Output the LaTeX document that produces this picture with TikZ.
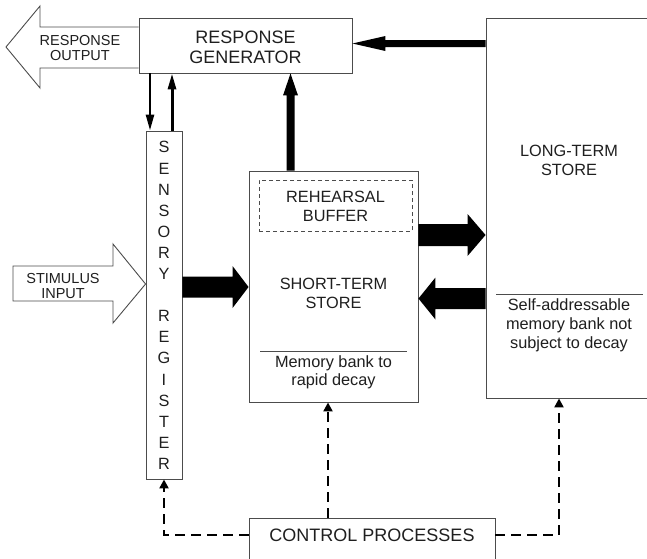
\documentclass[tikz,border=0pt]{standalone}
\usepackage{fontspec}
\setmainfont{Liberation Sans}
\usetikzlibrary{arrows.meta,calc}

% Solid block arrow from #1 to #2: shaft half-width #3, head half-width #4, head length #5
\newcommand\blockarrow[5]{%
  \coordinate (ba-s) at (#1);
  \coordinate (ba-t) at (#2);
  \coordinate (ba-b) at ($(ba-t)!#5!(ba-s)$);
  \fill[black] ($(ba-s)!#3!90:(ba-t)$) -- ($(ba-b)!#3!-90:(ba-s)$)
    -- ($(ba-b)!#4!-90:(ba-s)$) -- (ba-t) -- ($(ba-b)!#4!90:(ba-s)$)
    -- ($(ba-b)!#3!90:(ba-s)$) -- ($(ba-s)!#3!-90:(ba-t)$) -- cycle;
}

\begin{document}
\begin{tikzpicture}[x=1pt,y=-1pt,
  box/.style={draw=black!70, line width=0.9pt, fill=white, inner sep=0pt},
  lbl/.style={text=black!88, align=center, inner sep=0pt,
    font=\fontsize{16.3}{19}\selectfont},
  small/.style={lbl, font=\fontsize{14.5}{15}\selectfont},
  big/.style={lbl, font=\fontsize{18}{20}\selectfont},
  hollow/.style={draw=black!70, line width=0.9pt, fill=white, line join=miter},
  link/.style={line width=2.6pt, -{Triangle[length=16pt,width=8pt]}},
  ctl/.style={line width=2.5pt, dash pattern=on 10pt off 6pt,
    -{Triangle[length=9pt,width=9pt]}}]
\useasboundingbox (0,0) rectangle (647,558);

% ---- boxes ----
\node[box, minimum width=213pt, minimum height=55pt] (rg) at (245.5,45.5) {};
\node[big] (rgt) at (245.5,47) {RESPONSE\\GENERATOR};

\node[box, minimum width=36pt, minimum height=348pt] (sr) at (164,305) {};
\node[lbl, font=\fontsize{16.3}{21.1}\selectfont] (srt) at (164,305.5)
  {S\\E\\N\\S\\O\\R\\Y\\[21.1pt]R\\E\\G\\I\\S\\T\\E\\R};

\node[box, minimum width=169pt, minimum height=231pt] (sts) at (333.5,286.5) {};
\node[draw=black!70, line width=0.9pt, dash pattern=on 4pt off 3pt,
  minimum width=153pt, minimum height=51pt, inner sep=0pt] (rb) at (335.5,205.5) {};
\node[lbl] (rbt) at (335.5,206.5) {REHEARSAL\\BUFFER};
\node[lbl] (stst) at (333.5,293) {SHORT-TERM\\STORE};
\coordinate (stsl) at (260,351);
\coordinate (stsr) at (407,351);
\draw[black!70, line width=0.9pt] (stsl) -- (stsr);
\node[lbl, font=\fontsize{16.3}{18}\selectfont] (stsd) at (333.5,372)
  {Memory bank to\\rapid decay};

\node[box, minimum width=166pt, minimum height=380pt] (lts) at (569,208) {};
\node[lbl] (ltst) at (569,160) {LONG-TERM\\STORE};
\coordinate (ltsl) at (496,294);
\coordinate (ltsr) at (643,294);
\draw[black!70, line width=0.9pt] (ltsl) -- (ltsr);
\node[lbl] (ltsd) at (569,325.5)
  {Self-addressable\\memory bank not\\subject to decay};

\node[box, minimum width=246pt, minimum height=50pt] (ctrl) at (372,543) {};
\node[big] (ctrlt) at (372,535) {CONTROL PROCESSES};

% ---- open input / output arrows ----
\draw[hollow] (rg.west |- 0,27) -- (40,27) -- (40,6) -- (6,47) -- (40,88)
  -- (40,68) -- (rg.west |- 0,68);
\node[small] (rot) at (80,48) {RESPONSE\\OUTPUT};

\draw[hollow] (13,266) -- (113,266) -- (113,244) -- (sr.west |- 0,284)
  -- (113,323) -- (113,301) -- (13,301) -- cycle;
\node[small] (sit) at (63,286) {STIMULUS\\INPUT};

% ---- information flow ----
\draw[link] (rg.south -| 150,0) -- (sr.north -| 150,0);
\draw[link, line width=3pt] (sr.north -| 172,0) -- (rg.south -| 172,0);

\blockarrow{sr.east |- 0,287}{sts.west |- 0,287}{10.5pt}{21pt}{16pt}
\blockarrow{sts.east |- 0,235}{lts.west |- 0,235}{11pt}{21pt}{18pt}
\blockarrow{lts.west |- 0,298.5}{sts.east |- 0,298.5}{10.5pt}{21pt}{17pt}
\blockarrow{sts.north -| 290.5,0}{rg.south -| 290.5,0}{4pt}{7.5pt}{22pt}
\blockarrow{lts.west |- 0,43.5}{rg.east |- 0,43.5}{3.5pt}{7.5pt}{33pt}

% ---- control connections ----
\draw[ctl] (ctrl.west |- ctrlt) -| (sr.south);
\draw[ctl] (ctrl.north -| 328,0) -- (sts.south -| 328,0);
\draw[ctl] (ctrl.east |- ctrlt) -| (lts.south -| 559,0);
\end{tikzpicture}
\end{document}
